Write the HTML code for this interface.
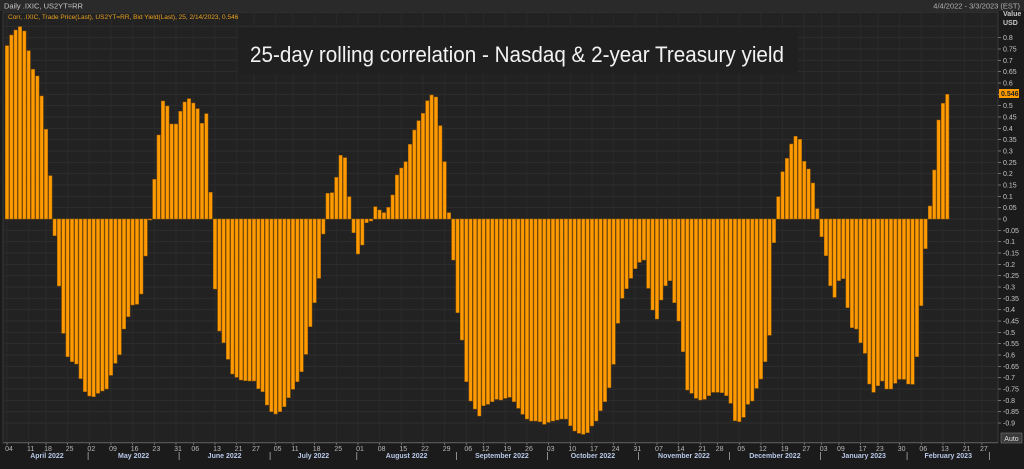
<!DOCTYPE html>
<html><head><meta charset="utf-8">
<style>
html,body{margin:0;padding:0;background:#1b1b1b;}
svg{display:block;font-family:"Liberation Sans",sans-serif;}
</style></head>
<body>
<svg id="s" width="1024" height="469" viewBox="0 0 1024 469" xmlns="http://www.w3.org/2000/svg">
<rect x="0" y="0" width="1024" height="469" fill="#1b1b1b"/>
<rect x="0" y="0" width="1024" height="11" fill="#2a2a2a"/>
<text x="4" y="8.5" font-size="7.5" fill="#c8c8c8">Daily .IXIC, US2YT=RR</text>
<text x="1020" y="8.5" font-size="7.5" fill="#b0b0b0" text-anchor="end">4/4/2022 - 3/3/2023 (EST)</text>
<rect x="3" y="12" width="995" height="431" fill="#222222" stroke="#3a3a3a" stroke-width="1"/>
<g id="grid"></g>
<text x="8" y="19" font-size="6.5" fill="#e8a020">Corr, .IXIC, Trade Price(Last), US2YT=RR, Bid Yield(Last),  25,  2/14/2023, 0.546</text>
<rect x="238" y="28" width="560" height="46" fill="#202020"/>
<text x="517" y="62" font-size="22" fill="#f2f2f2" text-anchor="middle" textLength="534" lengthAdjust="spacingAndGlyphs">25-day rolling correlation - Nasdaq &amp; 2-year Treasury yield</text>
<g id="bars"></g>
<g id="yax"></g>
<g id="xax"></g>
<text x="1003" y="16" font-size="7" fill="#c8c8c8" font-weight="bold">Value</text>
<text x="1003" y="25" font-size="7" fill="#c8c8c8" font-weight="bold">USD</text>
<rect x="1001" y="433" width="21" height="10" fill="#3a3a3a" stroke="#777" stroke-width="0.6"/>
<text x="1011.5" y="441" font-size="7" fill="#e0e0e0" text-anchor="middle">Auto</text>
</svg>
<script>
(function(){
var NS="http://www.w3.org/2000/svg";
function el(p,t,a,txt){var e=document.createElementNS(NS,t);for(var k in a)e.setAttribute(k,a[k]);if(txt!=null)e.textContent=txt;p.appendChild(e);return e;}
var zero=219, sc=226.7;
function Y(v){return zero - v*sc;}
var grid=document.getElementById('grid'), bars=document.getElementById('bars'), yax=document.getElementById('yax'), xax=document.getElementById('xax');
for(var i=-18;i<=17;i++){
  var v=i*0.05, y=Y(v);
  if(y<13||y>442)continue;
  el(grid,'line',{x1:4,x2:998,y1:y,y2:y,stroke:'#2e2e2e','stroke-width':1});
  if(v<=0.81 && v>=-0.91){
    el(yax,'line',{x1:998,x2:1001,y1:y,y2:y,stroke:'#999','stroke-width':0.7});
    var s=(Math.round(v*100)/100).toString();
    var lab=(Math.abs(v)<1e-9)?'0':s;
    el(yax,'text',{x:1003,y:y+2.5,'font-size':7,fill:'#c8c8c8'},lab);
  }
}
var hol=['2022-04-15','2022-05-30','2022-06-20','2022-07-04','2022-09-05','2022-11-24','2022-12-26','2023-01-02','2023-01-16','2023-02-20'];
var days=[];var d=new Date(Date.UTC(2022,3,4));var end=new Date(Date.UTC(2023,2,3));
while(d<=end){var wd=d.getUTCDay();var iso=d.toISOString().slice(0,10);if(wd!==0&&wd!==6&&hol.indexOf(iso)<0)days.push(new Date(d));d=new Date(d.getTime()+86400000);}
var pitch=4.333, x0=5.3;
function BX(i){return x0+pitch*i;}
var mnames=['January','February','March','April','May','June','July','August','September','October','November','December'];
var prevWeek=-1, prevMonth=-1, monthStarts=[];
for(var i=0;i<days.length;i++){
  var dd=days[i];var x=BX(i)+1.7;
  var wk=Math.floor((dd.getTime()/86400000+3)/7);
  if(wk!==prevWeek){
    prevWeek=wk;
    if(x<997){
      el(grid,'line',{x1:x,x2:x,y1:13,y2:442,stroke:'#2a2a2a','stroke-width':1});
      el(xax,'line',{x1:x,x2:x,y1:442,y2:445,stroke:'#888','stroke-width':0.7});
      var t=('0'+dd.getUTCDate()).slice(-2);
      el(xax,'text',{x:x+2,y:451,'font-size':7,fill:'#b8b8b8','text-anchor':'middle'},t);
    }
  }
  if(dd.getUTCMonth()!==prevMonth){prevMonth=dd.getUTCMonth();monthStarts.push({i:i,m:dd.getUTCMonth(),y:dd.getUTCFullYear()});}
}
for(var k=0;k<monthStarts.length;k++){
  var ms=monthStarts[k];var xs=BX(ms.i)+0.5;var xe=(k+1<monthStarts.length)?BX(monthStarts[k+1].i)+0.5:998;
  if(k>0&&xs<997) el(xax,'line',{x1:xs,x2:xs,y1:452,y2:460,stroke:'#aaa','stroke-width':0.8});
  if(ms.m===2&&ms.y===2023)continue;
  el(xax,'text',{x:(xs+xe)/2,y:458,'font-size':7,fill:'#b8c8e8','font-weight':'bold','text-anchor':'middle'},mnames[ms.m]+' '+ms.y);
}
var z=[77,45,30,20,33,92,148,168,228,328,467,647,798,940,1010,1025,1032,1076,1115,1128,1130,1120,1113,1107,1066,1030,1004,927,890,855,853,822,708,600,478,345,243,258,312,312,274,246,236,249,266,310,281,517,807,933,968,1018,1062,1072,1080,1082,1083,1083,1106,1115,1155,1175,1182,1175,1160,1133,1108,1085,1055,1003,920,848,775,642,520,518,472,406,413,530,638,702,675,608,603,560,570,578,562,525,465,444,425,373,330,302,280,242,225,231,317,425,578,720,878,960,1085,1143,1167,1188,1157,1153,1145,1138,1140,1135,1132,1145,1165,1183,1197,1203,1203,1205,1213,1207,1203,1200,1197,1197,1217,1233,1240,1243,1238,1218,1203,1172,1145,1103,1033,910,835,806,775,746,727,720,805,870,897,840,797,782,848,903,995,1110,1120,1135,1140,1138,1127,1117,1117,1118,1127,1150,1202,1205,1192,1153,1143,1105,1077,1025,946,668,530,455,415,372,349,358,424,447,489,566,650,707,797,832,782,776,863,923,927,968,1000,1092,1117,1097,1083,1107,1107,1090,1078,1078,1092,1093,1010,857,686,558,450,300,250,223];
for(var i=0;i<z.length;i++){
  var yy=20+z[i]/3;var ytop=Math.min(yy,zero),h=Math.abs(yy-zero);if(h<0.8)h=0.8;
  el(bars,'rect',{x:BX(i),y:ytop,width:3.4,height:h,fill:'#ff9a00',stroke:'#a86400','stroke-width':0.5});
}
el(yax,'rect',{x:999,y:89,width:20,height:9,fill:'#ff9a00'});
el(yax,'text',{x:1001,y:96,'font-size':7,fill:'#222','font-weight':'bold'},'0.546');
el(xax,'line',{x1:3,x2:998,y1:442.5,y2:442.5,stroke:'#555','stroke-width':1});
})();
</script>
</body></html>
